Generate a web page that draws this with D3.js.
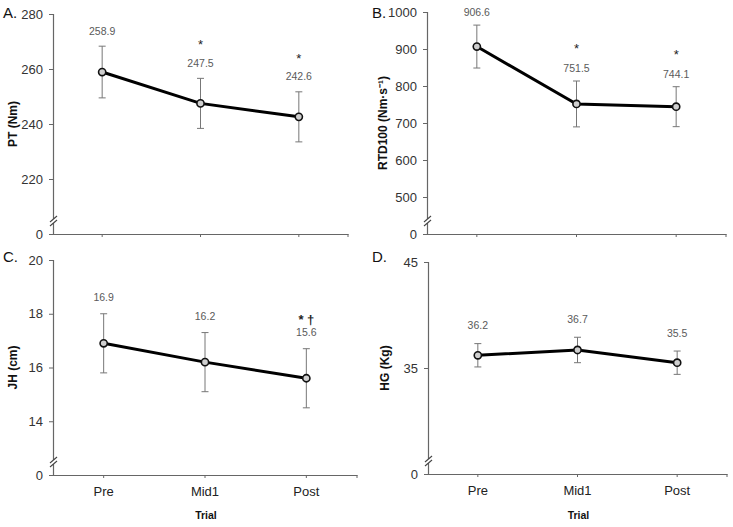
<!DOCTYPE html>
<html><head><meta charset="utf-8">
<script src="https://cdn.jsdelivr.net/npm/d3@7"></script>
<style>body{margin:0;background:#fff}svg{display:block;font-family:Arial,"Liberation Sans",sans-serif}</style>
</head><body><svg id="c" width="733" height="527"></svg>
<script>
const categories = ["Pre", "Mid1", "Post"];
const ptMean = [258.9, 247.5, 242.6];
const ptSD = [9.4, 9.1, 9.1];
const ptMarks = ["", "*", "*"];
const ptTicks = [220, 240, 260, 280];
const rtdMean = [906.6, 751.5, 744.1];
const rtdSD = [58, 62, 54];
const rtdMarks = ["", "*", "*"];
const rtdTicks = [500, 600, 700, 800, 900, 1000];
const jhMean = [16.9, 16.2, 15.6];
const jhSD = [1.1, 1.1, 1.1];
const jhMarks = ["", "", "* \u2020"];
const jhTicks = [14, 16, 18, 20];
const hgMean = [36.2, 36.7, 35.5];
const hgSD = [1.1, 1.2, 1.1];
const hgMarks = ["", "", ""];
const hgTicks = [35, 45];

const panels = [
  {letter:"A.", title:"PT (Nm)", mean:ptMean, sd:ptSD, marks:ptMarks, ticks:ptTicks, lo:200,
   x0:53, x1:348, y0:14, y1:234, lx:3, ly:18, tx:13, labOff:11.5, markOff:17.5, xlabels:false},
  {letter:"B.", title:"RTD100 (Nm\u00b7s\u207b\u00b9)", mean:rtdMean, sd:rtdSD, marks:rtdMarks, ticks:rtdTicks, lo:400,
   x0:427, x1:726, y0:12, y1:234, lx:372, ly:18, tx:383, labOff:9, markOff:19, xlabels:false},
  {letter:"C.", title:"JH (cm)", mean:jhMean, sd:jhSD, marks:jhMarks, ticks:jhTicks, lo:12,
   x0:53, x1:357, y0:260, y1:475, lx:3, ly:262, tx:13, labOff:13, markOff:11.5, xlabels:true},
  {letter:"D.", title:"HG (Kg)", mean:hgMean, sd:hgSD, marks:hgMarks, ticks:hgTicks, lo:25,
   x0:428, x1:727, y0:262, y1:474, lx:372, ly:262, tx:385, labOff:14.5, markOff:17, xlabels:true}
];

const svg = d3.select("#c");
const axisCol = "#666";

panels.forEach(p => {
  const g = svg.append("g");
  const x = d3.scaleBand().domain(categories).range([p.x0, p.x1]);
  const y = d3.scaleLinear().domain([p.lo, p.ticks[p.ticks.length-1]]).range([p.y1, p.y0]);
  const cx = c => x(c) + x.bandwidth()/2;

  const ya = g.append("g").attr("transform", `translate(${p.x0},0)`)
    .call(d3.axisLeft(y).tickValues([p.lo].concat(p.ticks)).tickSize(4).tickPadding(6)
      .tickFormat(v => v === p.lo ? "0" : d3.format("d")(v)));
  ya.select(".domain").attr("stroke", axisCol).attr("stroke-width", 1.2);
  ya.selectAll(".tick line").attr("stroke", axisCol);
  ya.selectAll(".tick text").attr("fill", "#333").style("font-size", "13px").style("font-family", "Arial, 'Liberation Sans', sans-serif");
  ya.selectAll(".tick").filter(v => v === p.lo).select("line").remove();

  const xa = g.append("g").attr("transform", `translate(0,${p.y1})`)
    .call(d3.axisBottom(x).tickSize(3).tickPadding(9).tickSizeOuter(0));
  xa.select(".domain").attr("stroke", axisCol).attr("stroke-width", 1.2);
  xa.selectAll(".tick line").attr("stroke", axisCol);
  xa.selectAll(".tick text").attr("fill", "#222").style("font-size", "13px").style("font-family", "Arial, 'Liberation Sans', sans-serif")
    .style("display", p.xlabels ? null : "none");
  g.append("line").attr("x1", p.x1).attr("x2", p.x1).attr("y1", p.y1).attr("y2", p.y1 + 3).attr("stroke", axisCol);

  const by = p.y1 - 13;
  g.append("rect").attr("x", p.x0 - 3).attr("y", by - 2).attr("width", 6).attr("height", 4).attr("fill", "#fff");
  [-2, 2].forEach(d => {
    g.append("line").attr("x1", p.x0 - 3).attr("y1", by + d + 3).attr("x2", p.x0 + 4).attr("y2", by + d - 3)
      .attr("stroke", "#444").attr("stroke-width", 1.1);
  });

  const data = categories.map((c, i) => ({c, m:p.mean[i], s:p.sd[i], mk:p.marks[i]}));
  data.forEach(d => {
    const X = cx(d.c);
    g.append("line").attr("x1", X).attr("x2", X).attr("y1", y(d.m + d.s)).attr("y2", y(d.m - d.s)).attr("stroke", "#777").attr("stroke-width", 1);
    [d.m + d.s, d.m - d.s].forEach(v => g.append("line").attr("x1", X - 3.5).attr("x2", X + 3.5).attr("y1", y(v)).attr("y2", y(v)).attr("stroke", "#777").attr("stroke-width", 1));
  });

  g.append("path").datum(data)
    .attr("d", d3.line().x(d => cx(d.c)).y(d => y(d.m)))
    .attr("fill", "none").attr("stroke", "#000").attr("stroke-width", 3);
  g.selectAll("circle").data(data).join("circle")
    .attr("cx", d => cx(d.c)).attr("cy", d => y(d.m)).attr("r", 3.6)
    .attr("fill", "#cfcfcf").attr("stroke", "#111").attr("stroke-width", 1.6);

  data.forEach(d => {
    const X = cx(d.c);
    const base = y(d.m + d.s) - p.labOff;
    g.append("text").attr("x", X).attr("y", base).attr("text-anchor", "middle")
      .attr("fill", "#5a5a5a").style("font-size", "10.5px").text(d.m.toFixed(1));
    if (d.mk) {
      g.append("text").attr("x", X).attr("y", base - p.markOff).attr("text-anchor", "middle")
        .attr("fill", "#222").style("font-size", "13px").style("font-weight", d.mk.length > 1 ? "bold" : "normal").text(d.mk);
    }
  });

  g.append("text").attr("x", p.lx).attr("y", p.ly).style("font-size", "15px").attr("fill", "#111").text(p.letter);
  g.append("text").attr("transform", `translate(${p.tx},${(p.y0 + p.y1) / 2}) rotate(-90)`)
    .attr("text-anchor", "middle").attr("dy", "0.35em").style("font-size", "12px").style("font-weight", "bold").attr("fill", "#111").text(p.title);
  if (p.xlabels) {
    g.append("text").attr("x", (p.x0 + p.x1) / 2 + 1).attr("y", 519).attr("text-anchor", "middle")
      .style("font-size", "10.5px").style("font-weight", "bold").attr("fill", "#111").text("Trial");
  }
});
</script></body></html>
